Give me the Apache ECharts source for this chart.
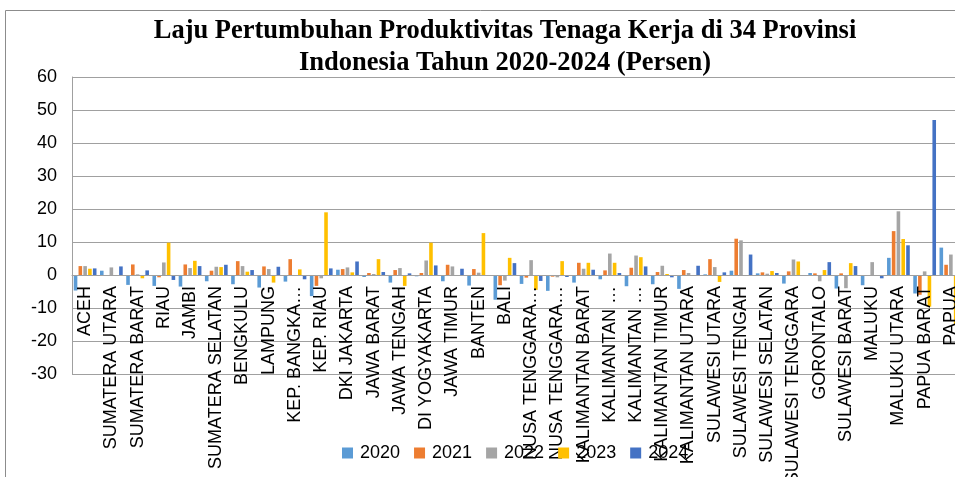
<!DOCTYPE html>
<html>
<head>
<meta charset="utf-8">
<script src="https://cdn.jsdelivr.net/npm/echarts@6/dist/echarts.min.js"></script>
<style>
html,body{margin:0;padding:0;background:#fff;}
#c{width:955px;height:477px;}
</style>
</head>
<body>
<div id="c"></div>
<script>
const categories = ["ACEH","SUMATERA UTARA","SUMATERA BARAT","RIAU","JAMBI","SUMATERA SELATAN","BENGKULU","LAMPUNG","KEP. BANGKA…","KEP. RIAU","DKI JAKARTA","JAWA BARAT","JAWA TENGAH","DI YOGYAKARTA","JAWA TIMUR","BANTEN","BALI","NUSA TENGGARA…","NUSA TENGGARA…","KALIMANTAN BARAT","KALIMANTAN …","KALIMANTAN …","KALIMANTAN TIMUR","KALIMANTAN UTARA","SULAWESI UTARA","SULAWESI TENGAH","SULAWESI SELATAN","SULAWESI TENGGARA","GORONTALO","SULAWESI BARAT","MALUKU","MALUKU UTARA","PAPUA BARAT","PAPUA"];
const years = ["2020","2021","2022","2023","2024"];
const v2020 = [-4.7,1.3,-3.0,-3.3,-3.5,-1.9,-2.8,-3.8,-2.0,-6.4,1.6,-0.6,-2.3,-0.4,-1.9,-3.2,-7.5,-2.7,-4.8,-2.3,-1.3,-3.4,-2.8,-4.2,0.2,1.3,0.5,-2.6,0.6,-4.1,-3.1,5.2,-5.6,8.3];
const v2021 = [2.7,0,3.2,-0.7,3.2,1.3,4.2,2.6,4.8,-3.3,1.8,0.6,1.5,0.6,3.1,1.8,-3.1,-0.8,-0.5,3.7,1.4,2.2,0.9,1.5,4.8,11.0,0.8,1.1,0.5,0.5,0,13.3,-6.0,3.1];
const v2022 = [2.7,2.3,0.2,3.8,2.1,2.5,2.7,1.8,0,-1.0,2.3,0.3,2.1,4.4,2.6,0.7,-1.7,4.5,-0.7,1.9,6.5,5.9,2.8,0.6,2.4,10.5,0.4,4.7,-1.9,-4.0,3.9,19.3,1.1,6.2];
const v2023 = [1.9,0,-1.0,9.8,4.3,2.4,1.0,-2.3,1.7,19.0,0.8,4.8,-3.3,9.8,0,12.7,5.2,-4.5,4.2,3.7,3.7,5.4,0.3,0,-2.1,0,1.2,4.1,1.5,3.6,0,10.9,-9.6,-15.0];
const v2024 = [2.0,2.6,1.4,-1.5,2.7,3.1,1.5,2.5,-1.3,2.0,4.1,0.9,0.5,2.9,1.9,0,3.6,-1.8,-0.6,1.6,0.6,2.6,-0.7,2.8,0.8,6.2,0.6,-0.3,3.9,2.7,-1.0,9.0,47.0,2.0];
const yTicks = [-30,-20,-10,0,10,20,30,40,50,60];
const colors = ["#5B9BD5","#ED7D31","#A5A5A5","#FFC000","#4472C4"];
const seriesValues = [v2020,v2021,v2022,v2023,v2024];

const gridTop = 77, gridBottom = 103, H = 477;
const yMin = yTicks[0], yMax = yTicks[yTicks.length-1];
const plotH = H - gridTop - gridBottom;
// distance from the bottom edge of the grid to the zero line
const zeroOffset = plotH * (0 - yMin) / (yMax - yMin);

const chart = echarts.init(document.getElementById('c'), null, {renderer:'canvas'});
const series = years.map((y,i)=>({
  name:y, type:'bar', data:seriesValues[i],
  barWidth:3.6, barGap:'33%',
  itemStyle:{color:colors[i]},
  z:2
}));
chart.setOption({
  animation:false,
  color:colors,
  title:{
    text:'Laju Pertumbuhan Produktivitas Tenaga Kerja di 34 Provinsi\nIndonesia Tahun 2020-2024 (Persen)',
    left:500, top:10, textAlign:'center',
    textStyle:{fontFamily:'Liberation Serif', fontWeight:'bold', fontSize:26.5, lineHeight:32, color:'#000'}
  },
  legend:{
    data:years, left:337, top:439, itemWidth:11, itemHeight:11, itemGap:14,
    icon:'rect',
    textStyle:{fontFamily:'Liberation Sans', fontSize:18, color:'#000', padding:[0,0,0,2]}
  },
  grid:{left:72, top:gridTop, bottom:gridBottom, right:-9, containLabel:false, outerBoundsMode:'none'},
  xAxis:{
    type:'category', data:categories, z:3, position:'bottom', offset:-zeroOffset,
    axisLine:{show:true, onZero:false, lineStyle:{color:'#a0a0a0'}}, axisTick:{show:false},
    axisLabel:{rotate:90, interval:0, margin:11, fontFamily:'Liberation Sans', fontSize:18, color:'#000'},
    splitLine:{show:false}
  },
  yAxis:{
    type:'value', min:yMin, max:yMax, interval:10,
    axisLine:{show:true, lineStyle:{color:'#a0a0a0'}}, axisTick:{show:false},
    axisLabel:{margin:15, fontFamily:'Liberation Sans', fontSize:18, color:'#000'},
    splitLine:{show:true, lineStyle:{color:'#a0a0a0', width:1}}
  },
  graphic:[{type:'rect', shape:{x:5.5, y:10.5, width:1200, height:600}, style:{fill:'none', stroke:'#8c8c8c', lineWidth:1}, z:-1}],
  series:series
});
</script>
</body>
</html>
